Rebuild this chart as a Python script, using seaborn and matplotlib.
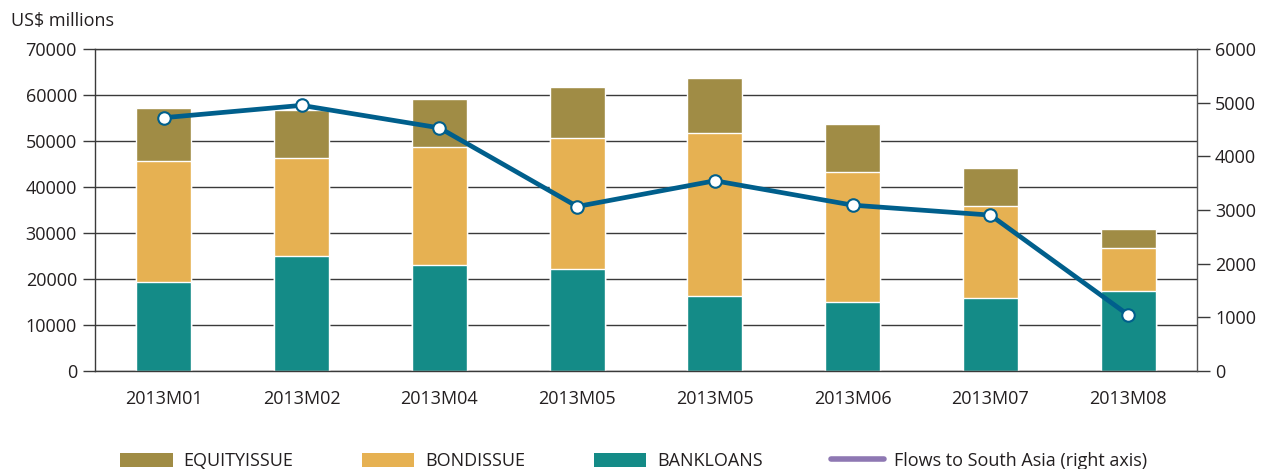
import seaborn as sns
import matplotlib.pyplot as plt
import pandas as pd
import numpy as np
from matplotlib.patches import Patch
from matplotlib.lines import Line2D
from matplotlib.ticker import FixedLocator

# data (US$ millions)
months = ['2013M01', '2013M02', '2013M04', '2013M05', '2013M05', '2013M06', '2013M07', '2013M08']
bankloans = [19400, 25000, 23070, 22270, 16320, 15020, 15960, 17410]
bondissue = [26250, 21200, 25530, 28370, 35330, 28280, 19940, 9360]
equityissue = [11520, 10450, 10600, 11160, 12050, 10300, 8280, 4060]
flows_south_asia = [4720, 4950, 4530, 3065, 3545, 3090, 2905, 1045]

c_equity = '#A08C45'
c_bond = '#E6B152'
c_bank = '#148B87'
c_line = '#005F8C'
c_text = '#231F20'

sns.set_style('white')
plt.rcParams['font.family'] = ['Open Sans', 'DejaVu Sans']
plt.rcParams['text.color'] = c_text
plt.rcParams['xtick.color'] = c_text
plt.rcParams['ytick.color'] = c_text

df = pd.DataFrame({'pos': range(len(months)), 'bank': bankloans,
                   'bond': bondissue, 'equity': equityissue,
                   'flows': flows_south_asia})
df['bond_top'] = df['bank'] + df['bond']
df['equity_top'] = df['bond_top'] + df['equity']

fig, ax = plt.subplots(figsize=(12.69, 4.69), dpi=100)
fig.subplots_adjust(left=0.0749, right=0.9433, bottom=0.209, top=0.8955)

# stacked bars drawn as layered cumulative totals
sns.barplot(data=df, x='pos', y='equity_top', color=c_equity, width=0.4,
            saturation=1, ax=ax, zorder=2)
sns.barplot(data=df, x='pos', y='bond_top', color=c_bond, width=0.4,
            saturation=1, ax=ax, zorder=2)
sns.barplot(data=df, x='pos', y='bank', color=c_bank, width=0.4,
            saturation=1, ax=ax, zorder=2)

ax.set_ylim(0, 70000)
ax.set_xlim(-0.5, len(months) - 0.5)
ax.set_yticks(np.arange(0, 70001, 10000))
ax.yaxis.grid(True, color='#3a3a3a', linewidth=1.0, zorder=0)
ax.set_axisbelow(True)
ax.set_xlabel('')
ax.set_ylabel('')
ax.set_xticks(range(len(months)))
ax.set_xticklabels(months, fontsize=13)
ax.xaxis.set_minor_locator(FixedLocator(np.arange(-0.5, len(months), 1)))
ax.tick_params(axis='x', which='major', length=0, pad=14)
ax.tick_params(axis='x', which='minor', length=9, width=1, color='#3a3a3a', direction='out')
ax.tick_params(axis='y', length=9, width=1, color='#3a3a3a', direction='out', labelsize=13, pad=4)
for s in ['left', 'bottom', 'top']:
    ax.spines[s].set_color('#3a3a3a')
    ax.spines[s].set_linewidth(1.0)
ax.spines['right'].set_visible(False)

ax2 = ax.twinx()
sns.lineplot(data=df, x='pos', y='flows', ax=ax2, color=c_line, linewidth=3.4,
             marker='o', markersize=9, markerfacecolor='white',
             markeredgecolor=c_line, markeredgewidth=1.5, zorder=5)
ax2.set_ylim(0, 6000)
ax2.set_yticks(np.arange(0, 6001, 1000))
ax2.set_ylabel('')
ax2.tick_params(axis='y', length=9, width=1, color='#3a3a3a', direction='out', labelsize=13, pad=4)
for s in ['left', 'bottom', 'top']:
    ax2.spines[s].set_visible(False)
ax2.spines['right'].set_color('#555555')
ax2.spines['right'].set_linewidth(1.0)

fig.text(0.009, 0.955, 'US$ millions', fontsize=13, ha='left', va='center')

handles = [Patch(facecolor=c_equity, edgecolor='none'),
           Patch(facecolor=c_bond, edgecolor='none'),
           Patch(facecolor=c_bank, edgecolor='none'),
           Line2D([0], [0], color='#8E78B3', linewidth=4, solid_capstyle='round')]
labels = ['EQUITYISSUE', 'BONDISSUE', 'BANKLOANS', 'Flows to South Asia (right axis)']
fig.legend(handles, labels, loc='center', bbox_to_anchor=(0.4995, 0.017), ncol=4,
           frameon=False, fontsize=13, handlelength=2.9, handleheight=0.85,
           handletextpad=0.6, columnspacing=3.8)

fig.savefig('out.png', dpi=100)
